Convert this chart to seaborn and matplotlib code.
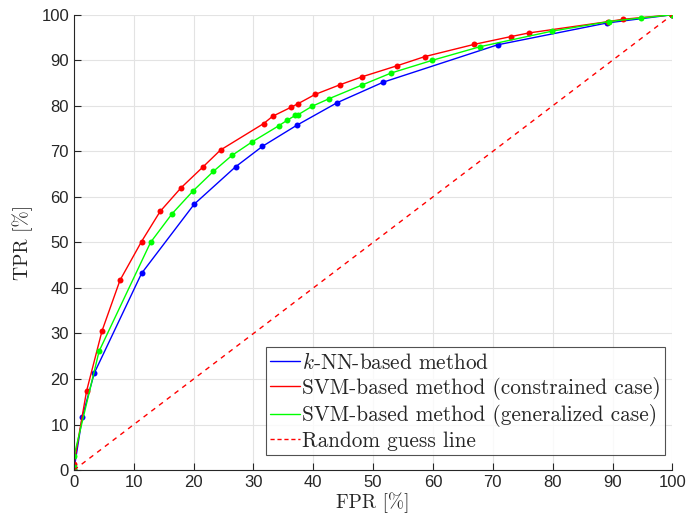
import numpy as np
import pandas as pd
import matplotlib
matplotlib.use("Agg")
import matplotlib.pyplot as plt
from matplotlib.lines import Line2D
import seaborn as sns

knn_fpr = [0, 1.4, 3.4, 11.3, 20.1, 27.0, 31.5, 37.2, 44.0, 51.7, 70.8, 89.1, 100]
knn_tpr = [0, 11.7, 21.3, 43.2, 58.4, 66.6, 71.1, 75.7, 80.7, 85.2, 93.4, 98.2, 100]

con_fpr = [0, 0, 2.1, 4.7, 7.7, 11.3, 14.4, 17.9, 21.5, 24.5, 31.7, 33.2, 36.3, 37.5,
           40.3, 44.4, 48.2, 54.0, 58.6, 66.9, 73.0, 76.0, 89.3, 91.7, 100]
con_tpr = [0, 1.3, 17.3, 30.6, 41.7, 50.2, 56.8, 62.0, 66.5, 70.3, 76.1, 77.7, 79.7, 80.5,
           82.5, 84.6, 86.4, 88.8, 90.8, 93.5, 95.2, 96.0, 98.5, 99.0, 100]

gen_fpr = [0, 0, 0, 4.2, 12.8, 16.4, 19.9, 23.3, 26.4, 29.8, 34.2, 35.6, 37.0, 37.4,
           39.8, 42.7, 48.2, 53.0, 59.9, 67.9, 79.9, 89.4, 94.8, 100]
gen_tpr = [0, 0.7, 3.0, 26.1, 50.0, 56.3, 61.3, 65.6, 69.1, 72.1, 75.6, 76.8, 77.9, 78.0,
           79.9, 81.6, 84.6, 87.2, 90.0, 93.0, 96.4, 98.5, 99.3, 100]

rand_fpr = [0, 100]
rand_tpr = [0, 100]

labels = ["$k$-NN-based method",
          "SVM-based method (constrained case)",
          "SVM-based method (generalized case)",
          "Random guess line"]
colors = ["#0000ff", "#ff0000", "#00ff00"]

sns.set_theme(style="white")
plt.rcParams["mathtext.fontset"] = "cm"
plt.rcParams["axes.unicode_minus"] = False

frames = []
for name, fx, ty in zip(labels[:3], [knn_fpr, con_fpr, gen_fpr], [knn_tpr, con_tpr, gen_tpr]):
    frames.append(pd.DataFrame({"FPR": fx, "TPR": ty, "method": name, "order": range(len(fx))}))
df = pd.concat(frames, ignore_index=True)

fig = plt.figure(figsize=(6.91, 5.27), dpi=100)
ax = fig.add_axes([0.107, 0.108, 0.866, 0.864])

for name, col in zip(labels[:3], colors):
    sub = df[df["method"] == name]
    sns.lineplot(data=sub, x="FPR", y="TPR", ax=ax, color=col, sort=False,
                 linewidth=1.0, marker="o", markersize=4.3, markeredgewidth=0,
                 estimator=None, legend=False)

sns.lineplot(x=rand_fpr, y=rand_tpr, ax=ax, color="#ff0000", linewidth=1.0,
             linestyle=(0, (3.5, 3.5)), legend=False)

ax.set_xlim(0, 100)
ax.set_ylim(0, 100)
ax.set_xticks(np.arange(0, 101, 10))
ax.set_yticks(np.arange(0, 101, 10))
ax.grid(True, color="#e3e3e3", linewidth=0.8)
ax.set_axisbelow(True)
for s in ["top", "right"]:
    ax.spines[s].set_visible(False)
for s in ["left", "bottom"]:
    ax.spines[s].set_color("#262626")
    ax.spines[s].set_linewidth(0.8)
ax.tick_params(direction="in", length=5, width=0.8, colors="#262626",
               labelsize=12, left=True, bottom=True)
for lbl in ax.get_xticklabels() + ax.get_yticklabels():
    lbl.set_fontfamily("Liberation Sans")
    lbl.set_color("#262626")

ax.set_xlabel("FPR [%]", family="cmr10", fontsize=14, color="#262626", labelpad=2)
ax.set_ylabel("TPR [%]", family="cmr10", fontsize=14, color="#262626", labelpad=6)

handles = [Line2D([], [], color=c, linewidth=1.0) for c in colors]
handles.append(Line2D([], [], color="#ff0000", linewidth=1.0, linestyle=(0, (3, 2))))
leg = ax.legend(handles, labels, loc="lower right", bbox_to_anchor=(0.988, 0.033),
                prop={"family": "cmr10", "size": 15.3}, frameon=True, fancybox=False,
                edgecolor="#262626", handlelength=1.4, handletextpad=0.1,
                borderpad=0.2, labelspacing=0.2, borderaxespad=0.0)
leg.get_frame().set_linewidth(0.8)

fig.savefig("out.png", dpi=100)
